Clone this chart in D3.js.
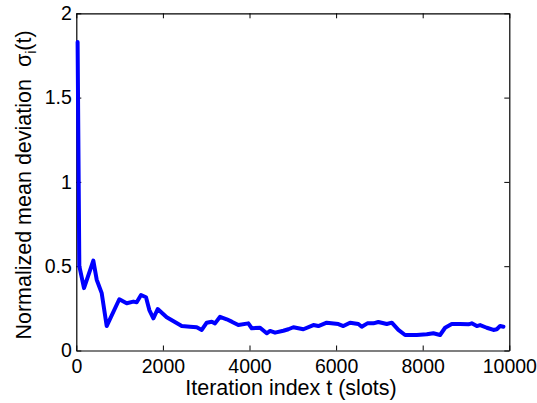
<!DOCTYPE html>
<html>
<head>
<meta charset="utf-8">
<script src="https://cdn.jsdelivr.net/npm/d3@7"></script>
<style>
  body { margin: 0; background: #fff; }
  svg { display: block; font-family: "Liberation Sans", Arial, sans-serif; }
</style>
</head>
<body>
<div id="chart"></div>
<script>
// iteration index t (slots)
const slots = [30, 70, 178, 393, 471, 587, 702, 993, 1164, 1317, 1395, 1495, 1610, 1687, 1780, 1880,
  2088, 2356, 2435, 2627, 2781, 2897, 3012, 3128, 3204, 3320, 3474, 3590, 3742, 3973, 4051, 4244,
  4398, 4475, 4590, 4782, 4898, 5013, 5244, 5475, 5590, 5784, 6052, 6168, 6322, 6514, 6592, 6722,
  6861, 6976, 7170, 7286, 7438, 7593, 7863, 8094, 8247, 8401, 8517, 8671, 8863, 9056, 9133, 9249,
  9326, 9480, 9634, 9711, 9788, 9865];
// normalized mean deviation sigma_i(t)
const deviation = [1.83, 0.50, 0.37, 0.533, 0.42, 0.34, 0.145, 0.304, 0.28, 0.29, 0.286, 0.329, 0.316, 0.24, 0.191, 0.246,
  0.197, 0.157, 0.145, 0.141, 0.138, 0.122, 0.165, 0.171, 0.161, 0.2, 0.185, 0.171, 0.151, 0.161, 0.132, 0.135,
  0.102, 0.116, 0.106, 0.117, 0.126, 0.138, 0.126, 0.151, 0.145, 0.165, 0.157, 0.145, 0.165, 0.157, 0.141, 0.161,
  0.161, 0.169, 0.157, 0.165, 0.122, 0.092, 0.092, 0.096, 0.102, 0.092, 0.135, 0.157, 0.157, 0.155, 0.161, 0.145,
  0.151, 0.135, 0.122, 0.126, 0.145, 0.141];
const xTicks = [0, 2000, 4000, 6000, 8000, 10000];
const yTicks = [0, 0.5, 1, 1.5, 2];

const W = 537, H = 403;
const margin = { top: 13.3, right: 27.7, bottom: 52.5, left: 76.3 };
const w = W - margin.left - margin.right;
const h = H - margin.top - margin.bottom;

const svg = d3.select('#chart').append('svg')
  .attr('width', W).attr('height', H);

const g = svg.append('g')
  .attr('transform', `translate(${margin.left},${margin.top})`);

const x = d3.scaleLinear().domain([0, 10000]).range([0, w]);
const y = d3.scaleLinear().domain([0, 2]).range([h, 0]);

const fmtY = d => d3.format('')(d);

// bottom + left with labels, top + right without (ticks inward)
g.append('g').attr('class', 'ax')
  .attr('transform', `translate(0,${h})`)
  .call(d3.axisBottom(x).tickValues(xTicks).tickFormat(d3.format('d'))
    .tickSizeInner(-5).tickSizeOuter(0).tickPadding(8.5));
g.append('g').attr('class', 'ax')
  .call(d3.axisLeft(y).tickValues(yTicks).tickFormat(fmtY)
    .tickSizeInner(-5).tickSizeOuter(0).tickPadding(4.5));
g.append('g').attr('class', 'ax')
  .call(d3.axisTop(x).tickValues(xTicks).tickFormat('')
    .tickSizeInner(-5).tickSizeOuter(0));
g.append('g').attr('class', 'ax')
  .attr('transform', `translate(${w},0)`)
  .call(d3.axisRight(y).tickValues(yTicks).tickFormat('')
    .tickSizeInner(-5).tickSizeOuter(0));

svg.selectAll('.ax path').attr('stroke', '#000').attr('stroke-width', 1.2);
svg.selectAll('.ax line').attr('stroke', '#000');
svg.selectAll('.ax text').attr('fill', '#000').style('font-size', '19.5px')
  .style('font-family', '"Liberation Sans", Arial, sans-serif');

const pts = slots.map((t, i) => [t, deviation[i]]);
const line = d3.line().x(d => x(d[0])).y(d => y(d[1]));

g.append('path')
  .datum(pts)
  .attr('d', line)
  .attr('fill', 'none')
  .attr('stroke', '#0000ff')
  .attr('stroke-width', 4)
  .attr('stroke-linejoin', 'round')
  .attr('stroke-linecap', 'round');

// axis titles
svg.append('text')
  .attr('x', 291)
  .attr('y', 395)
  .attr('text-anchor', 'middle')
  .style('font-size', '21.5px')
  .text('Iteration index t (slots)');

const yl = svg.append('text')
  .attr('transform', 'translate(30.5,185) rotate(-90)')
  .attr('text-anchor', 'middle')
  .style('font-size', '21.5px')
  .attr('xml:space', 'preserve');
yl.append('tspan').text('Normalized mean deviation  σ');
yl.append('tspan').attr('dy', 5).style('font-size', '14px').text('i');
yl.append('tspan').attr('dy', -5).text('(t)');
</script>
</body>
</html>
